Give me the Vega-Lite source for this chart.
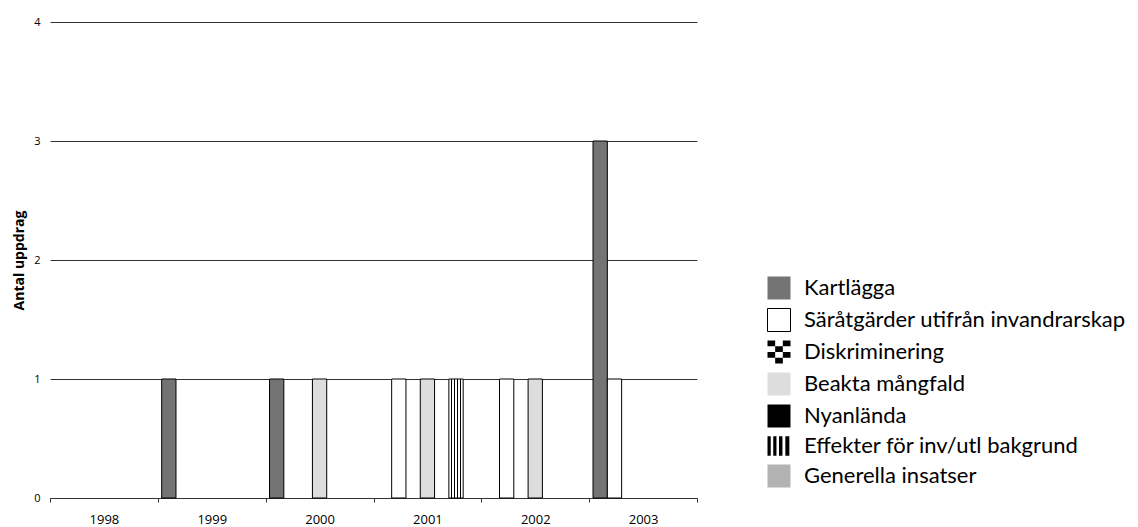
{
  "$schema": "https://vega.github.io/schema/vega-lite/v6.json",
  "autosize": "none",
  "width": 647,
  "height": 476,
  "padding": {"left": 50, "top": 22, "right": 441, "bottom": 29},
  "background": "white",
  "config": {
    "font": "Open Sans",
    "view": {"stroke": null}
  },
  "data": {
    "values": [
      {"year": "1999", "cat": "Kartlägga", "n": 1},
      {"year": "2000", "cat": "Kartlägga", "n": 1},
      {"year": "2000", "cat": "Beakta mångfald", "n": 1},
      {"year": "2001", "cat": "Säråtgärder utifrån invandrarskap", "n": 1},
      {"year": "2001", "cat": "Beakta mångfald", "n": 1},
      {"year": "2001", "cat": "Effekter för inv/utl bakgrund", "n": 1},
      {"year": "2002", "cat": "Säråtgärder utifrån invandrarskap", "n": 1},
      {"year": "2002", "cat": "Beakta mångfald", "n": 1},
      {"year": "2003", "cat": "Kartlägga", "n": 3},
      {"year": "2003", "cat": "Säråtgärder utifrån invandrarskap", "n": 1}
    ]
  },
  "encoding": {
    "x": {
      "field": "year", "type": "ordinal",
      "scale": {"domain": ["1998", "1999", "2000", "2001", "2002", "2003"], "paddingInner": 0, "paddingOuter": 0},
      "axis": {
        "title": null, "labelAngle": 0, "tickBand": "extent",
        "domain": true, "domainColor": "#333", "tickColor": "#333", "tickSize": 4,
        "labelFontSize": 13, "labelColor": "black", "labelPadding": 11, "grid": false
      }
    },
    "xOffset": {
      "field": "cat", "type": "nominal",
      "scale": {
        "domain": ["Kartlägga", "Säråtgärder utifrån invandrarskap", "Diskriminering", "Beakta mångfald", "Nyanlända", "Effekter för inv/utl bakgrund", "Generella insatser"],
        "paddingInner": 0, "paddingOuter": 0.27
      }
    },
    "y": {
      "field": "n", "type": "quantitative",
      "scale": {"domain": [0, 4], "nice": false},
      "axis": {
        "title": "Antal uppdrag", "titleFontSize": 14, "titleFontWeight": "bold", "titleColor": "black",
        "titlePadding": 7,
        "values": [0, 1, 2, 3, 4], "format": "d", "domain": false, "ticks": false,
        "labelFontSize": 11, "labelColor": "black", "labelPadding": 10,
        "grid": true, "gridColor": "#333", "gridWidth": 1, "gridOpacity": 1
      }
    }
  },
  "layer": [
    {
      "mark": {"type": "bar", "stroke": "black", "strokeWidth": 1},
      "encoding": {
        "color": {
          "condition": {
            "test": "datum.cat === 'Effekter för inv/utl bakgrund'",
            "value": {
              "gradient": "linear", "x1": 0, "y1": 0, "x2": 1, "y2": 0,
              "stops": [
                {"offset": 0, "color": "white"},
                {"offset": 0.17, "color": "white"},
                {"offset": 0.17, "color": "black"},
                {"offset": 0.25, "color": "black"},
                {"offset": 0.25, "color": "white"},
                {"offset": 0.37, "color": "white"},
                {"offset": 0.37, "color": "black"},
                {"offset": 0.45, "color": "black"},
                {"offset": 0.45, "color": "white"},
                {"offset": 0.57, "color": "white"},
                {"offset": 0.57, "color": "black"},
                {"offset": 0.65, "color": "black"},
                {"offset": 0.65, "color": "white"},
                {"offset": 0.77, "color": "white"},
                {"offset": 0.77, "color": "black"},
                {"offset": 0.85, "color": "black"},
                {"offset": 0.85, "color": "white"},
                {"offset": 1, "color": "white"}
              ]
            }
          },
          "field": "cat", "type": "nominal",
          "scale": {
            "domain": ["Kartlägga", "Säråtgärder utifrån invandrarskap", "Diskriminering", "Beakta mångfald", "Nyanlända", "Effekter för inv/utl bakgrund", "Generella insatser"],
            "range": ["#747474", "#ffffff", "#000000", "#dddddd", "#000000", "#000000", "#b3b3b3"]
          }
        }
      }
    },
    {
      "transform": [{"filter": "false"}],
      "mark": {"type": "point", "filled": true, "size": 529, "strokeWidth": 1, "opacity": 1},
      "encoding": {
        "y": {"field": "n", "type": "quantitative"},
        "color": {
          "field": "cat", "type": "nominal",
          "scale": {
            "domain": ["Kartlägga", "Säråtgärder utifrån invandrarskap", "Diskriminering", "Beakta mångfald", "Nyanlända", "Effekter för inv/utl bakgrund", "Generella insatser"],
            "range": ["#747474", "#ffffff", "#000000", "#dddddd", "#000000", "#000000", "#b3b3b3"]
          },
          "legend": {
            "title": null, "orient": "none", "legendX": 717, "legendY": 254,
            "symbolSize": 529, "symbolStrokeWidth": 1, "symbolOpacity": 1,
            "labelFont": "Lato", "labelFontSize": 22, "labelColor": "black", "labelOffset": 13, "rowPadding": 4,
            "labelLimit": 400
          }
        },
        "shape": {
          "field": "cat", "type": "nominal",
          "scale": {
            "domain": ["Kartlägga", "Säråtgärder utifrån invandrarskap", "Diskriminering", "Beakta mångfald", "Nyanlända", "Effekter för inv/utl bakgrund", "Generella insatser"],
            "range": [
              "square",
              "square",
              "M-1,-1h0.667v0.5h-0.667zM0.333,-1h0.667v0.5h-0.667zM-0.333,-0.5h0.667v0.5h-0.667zM-1,0h0.667v0.5h-0.667zM0.333,0h0.667v0.5h-0.667zM-0.333,0.5h0.667v0.5h-0.667z",
              "square",
              "square",
              "M-1,-0.85h0.28v1.7h-0.28zM-0.5,-0.85h0.28v1.7h-0.28zM0,-0.85h0.3v1.7h-0.3zM0.55,-0.85h0.35v1.7h-0.35z",
              "square"
            ]
          },
          "legend": {"title": null}
        },
        "stroke": {
          "field": "cat", "type": "nominal",
          "scale": {
            "domain": ["Kartlägga", "Säråtgärder utifrån invandrarskap", "Diskriminering", "Beakta mångfald", "Nyanlända", "Effekter för inv/utl bakgrund", "Generella insatser"],
            "range": ["transparent", "#000000", "transparent", "transparent", "transparent", "transparent", "transparent"]
          },
          "legend": {"title": null}
        }
      }
    }
  ]
}
